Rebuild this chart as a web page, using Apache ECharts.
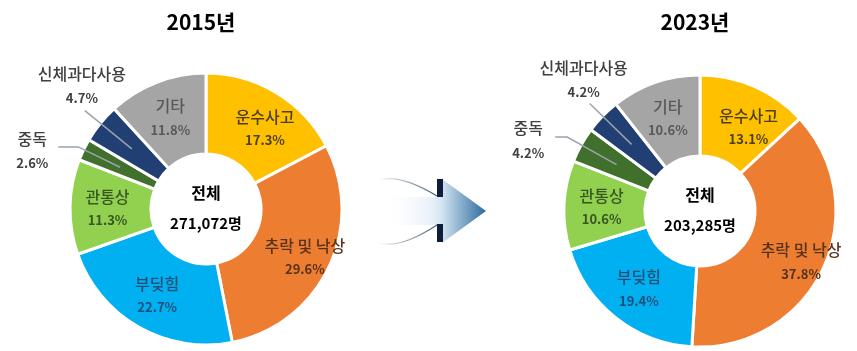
<!DOCTYPE html>
<html>
<head>
<meta charset="utf-8">
<script src="https://cdn.jsdelivr.net/npm/echarts@6/dist/echarts.min.js"></script>
<style>
  html, body { margin: 0; background: #fff; }
  #chart { width: 857px; height: 351px; }
</style>
</head>
<body>
<div id="chart"></div>
<script>
var categories = ['운수사고', '추락 및 낙상', '부딪힘', '관통상', '중독', '신체과다사용', '기타'];
var years = ['2015년', '2023년'];
var totals = ['271,072', '203,285'];
var share2015 = [17.3, 29.6, 22.7, 11.3, 2.6, 4.7, 11.8];
var share2023 = [13.1, 37.8, 19.4, 10.6, 4.2, 4.2, 10.6];

var colors = ['#FFC000', '#ED7D31', '#00B0F0', '#92D050', '#41702C', '#213F73', '#A5A5A5'];
var textColors = ['#4d4020', '#55331d', '#1f4e79', '#375623', '#404040', '#404040', '#595959'];
var FONT = '"Noto Sans CJK KR", "Noto Sans", sans-serif';

var chart = echarts.init(document.getElementById('chart'));

// donut centres (px) and ring radii
var centers = [[206, 209], [700, 211]];
var R0 = 55, R1 = 136;

// small nudges for the inside labels of the first two slices
var nudges = [{0: [8, 3], 1: [10, 5]}, {0: [9, 6], 1: [12, 8]}];
// outside labels: elbow radius, horizontal tail, label offset from tail end
var outside = {
  4: [{r: 142, h: 20, dx: -26, dy: 3}, {r: 152, h: 12, dx: -27, dy: 2}],
  5: [{r: 156, h: 0, dx: -3, dy: -26}, {r: 154, h: 0, dx: -6, dy: -25}]
};

function midAngle(vals, i) {
  var tot = 0, before = 0;
  for (var k = 0; k < vals.length; k++) {
    tot += vals[k];
    if (k < i) before += vals[k];
  }
  return (before + vals[i] / 2) / tot * 360;
}

function polar(c, r, deg) {
  var rad = deg * Math.PI / 180;
  return [c[0] + r * Math.sin(rad), c[1] - r * Math.cos(rad)];
}

// leader line: from mid-ring of the slice out to the elbow and tail
function leader(k, vals, i) {
  var o = outside[i][k];
  var a = midAngle(vals, i);
  var p0 = polar(centers[k], (R0 + R1) / 2, a);
  var p1 = polar(centers[k], o.r, a);
  return [p0, p1, [p1[0] - o.h, p1[1]]];
}

function makeData(vals) {
  return categories.map(function(name, i) {
    var out = (i === 4 || i === 5);
    return {
      name: name,
      value: vals[i],
      itemStyle: { color: colors[i] },
      label: {
        position: out ? 'outside' : 'inside',
        rich: {
          n: { fontSize: 16, fontWeight: 500, color: textColors[i], fontFamily: FONT, lineHeight: out ? 27 : 25 },
          p: { fontSize: 13, fontWeight: 'bold', color: textColors[i], fontFamily: FONT, lineHeight: 22 }
        }
      }
    };
  });
}

function makeLayout(k, vals) {
  return function(p) {
    var i = p.dataIndex;
    if (outside[i]) {
      var o = outside[i][k];
      var pts = leader(k, vals, i);
      return {
        x: pts[2][0] + o.dx,
        y: pts[2][1] + o.dy,
        align: 'center',
        verticalAlign: 'middle'
      };
    }
    var n = nudges[k][i];
    return n ? { dx: n[0], dy: n[1] } : {};
  };
}

function makeSeries(k, vals) {
  return {
    type: 'pie',
    center: centers[k],
    radius: [R0, R1],
    startAngle: 90,
    clockwise: true,
    avoidLabelOverlap: false,
    silent: true,
    itemStyle: { borderColor: '#fff', borderWidth: 3 },
    label: {
      show: true,
      formatter: '{n|{b}}\n{p|{c}%}',
      align: 'center'
    },
    labelLine: { show: false },
    labelLayout: makeLayout(k, vals),
    emphasis: { disabled: true },
    data: makeData(vals)
  };
}

function text(x, y, str, font) {
  return {
    type: 'text',
    x: x,
    y: y,
    z: 10,
    style: {
      text: str,
      font: font,
      fill: '#000',
      align: 'center',
      verticalAlign: 'middle',
      textAlign: 'center',
      textVerticalAlign: 'middle'
    }
  };
}

var graphics = [];
centers.forEach(function(c, k) {
  graphics.push(text(c[0] - 5, 22, years[k], 'bold 21px ' + FONT));
  graphics.push(text(c[0], c[1] - 16, '전체', 'bold 16px ' + FONT));
  graphics.push(text(c[0], c[1] + 14, totals[k] + '명', 'bold 15px ' + FONT));
});

// leader lines drawn over the slices
[share2015, share2023].forEach(function(vals, k) {
  [4, 5].forEach(function(i) {
    graphics.push({
      type: 'polyline',
      z: 10,
      shape: { points: leader(k, vals, i) },
      style: { fill: null, stroke: '#9aa3ad', lineWidth: 1.5 }
    });
  });
});

// arrow between the two donuts
graphics.push({
  type: 'polygon',
  shape: { points: [[380, 197], [442, 197], [442, 179], [486, 211], [442, 243], [442, 225], [380, 225]] },
  style: {
    fill: {
      type: 'linear', x: 0, y: 0, x2: 1, y2: 0,
      colorStops: [
        { offset: 0, color: 'rgba(255,255,255,0)' },
        { offset: 0.5, color: '#e6f0f8' },
        { offset: 0.58, color: '#d4e5f2' },
        { offset: 1, color: '#2c6a9e' }
      ]
    }
  }
});
graphics.push({ type: 'rect', shape: { x: 437, y: 179, width: 6, height: 18 }, style: { fill: '#0f1d3a' } });
graphics.push({ type: 'rect', shape: { x: 437, y: 224, width: 6, height: 18 }, style: { fill: '#0f1d3a' } });
[[380, 180, 400, 174, 437, 196], [380, 243, 400, 249, 437, 225]].forEach(function(s) {
  graphics.push({
    type: 'bezierCurve',
    shape: { x1: s[0], y1: s[1], cpx1: s[2], cpy1: s[3], x2: s[4], y2: s[5] },
    style: {
      fill: null,
      lineWidth: 1.3,
      stroke: {
        type: 'linear', x: 0, y: 0, x2: 1, y2: 0,
        colorStops: [
          { offset: 0, color: 'rgba(60,90,115,0)' },
          { offset: 1, color: '#3c5a73' }
        ]
      }
    }
  });
});

chart.setOption({
  animation: false,
  backgroundColor: '#fff',
  series: [makeSeries(0, share2015), makeSeries(1, share2023)],
  graphic: graphics
});
</script>
</body>
</html>
